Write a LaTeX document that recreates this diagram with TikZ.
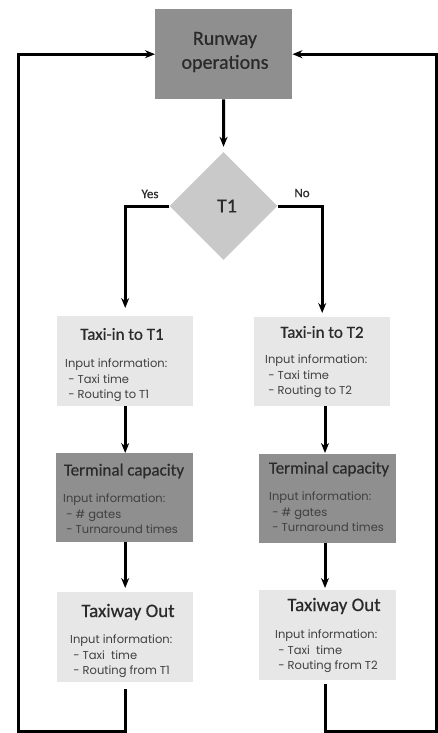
\documentclass[tikz,border=0pt]{standalone}
\usepackage{fontspec}
\setmainfont[FakeBold=0.5]{Carlito}
\newfontfamily\bodyfont{Poppins}
\usetikzlibrary{shapes.geometric,arrows.meta}
\definecolor{darkbox}{HTML}{8F8F8F}
\definecolor{lightbox}{HTML}{E7E7E7}
\definecolor{diabox}{HTML}{C9C9C9}
\definecolor{txt}{HTML}{2A2A2A}
\definecolor{bodytxt}{HTML}{404040}
\begin{document}
\begin{tikzpicture}[x=1pt,y=-1pt,
  box/.style={draw=none,inner sep=0pt,anchor=north west},
  title/.style={font=\fontsize{17}{19}\selectfont,text=txt,inner sep=0pt},
  bigtitle/.style={font=\fontsize{19}{21}\selectfont,text=txt,inner sep=0pt},
  body/.style={font=\bodyfont\fontsize{11.5}{15.5}\selectfont,text=bodytxt,align=left,inner sep=0pt,anchor=north west},
  conn/.style={line width=3pt,black},
  arr/.style={conn,-{Stealth[length=10pt,width=8pt]}},
  lbl/.style={font=\fontsize{13}{15}\selectfont,text=txt,inner sep=0pt}]
\useasboundingbox (0,0) rectangle (438,733);
% boxes
\node[box,fill=darkbox,minimum width=137pt,minimum height=90pt] (run) at (155,9) {};
\node[font=\fontsize{20}{24}\selectfont,text=txt,inner sep=0pt,align=center] (runt) at (225,52) {Runway\\operations};
\node[diamond,aspect=1,fill=diabox,minimum size=108pt,inner sep=0pt] (dia) at (223.5,206) {};
\node[font=\fontsize{20}{22}\selectfont,text=txt,inner sep=0pt] (diat) at (227,206) {T1};
\node[lbl] (yes) at (150,194) {Yes};
\node[lbl] (no) at (302,193) {No};

\node[box,fill=lightbox,minimum width=136pt,minimum height=90pt] (t1in) at (57,316) {};
\node[title] (t1int) at (122,334) {Taxi-in to T1};
\node[body] (t1inb) at (65,359) {Input information:\\\ - Taxi time\\\ - Routing to T1};

\node[box,fill=lightbox,minimum width=136pt,minimum height=89pt] (t2in) at (254,317) {};
\node[title] (t2int) at (322,332) {Taxi-in to T2};
\node[body] (t2inb) at (265,355) {Input information:\\\ - Taxi time\\\ - Routing to T2};

\node[box,fill=darkbox,minimum width=137pt,minimum height=89pt] (tc1) at (56,453) {};
\node[title] (tc1t) at (124,471) {Terminal capacity};
\node[body] (tc1b) at (63,494) {Input information:\\\ - \# gates\\\ - Turnaround times};

\node[box,fill=darkbox,minimum width=137pt,minimum height=89pt] (tc2) at (259,454) {};
\node[title] (tc2t) at (329,469) {Terminal capacity};
\node[body] (tc2b) at (269,492) {Input information:\\\ - \# gates\\\ - Turnaround times};

\node[box,fill=lightbox,minimum width=136pt,minimum height=90pt] (to1) at (57,592) {};
\node[bigtitle] (to1t) at (128,612) {Taxiway Out};
\node[body] (to1b) at (70,635) {Input information:\\\ - Taxi\ \ time\\\ - Routing from T1};

\node[box,fill=lightbox,minimum width=137pt,minimum height=90pt] (to2) at (259,590) {};
\node[bigtitle] (to2t) at (334,606) {Taxiway Out};
\node[body] (to2b) at (275,630) {Input information:\\\ - Taxi\ \ time\\\ - Routing from T2};

% connectors
\draw[arr,shorten >=5pt] (run.south) -- (dia.north);
\draw[arr,shorten >=8pt] (dia.west) -| (t1in.north);
\draw[arr,shorten >=4pt] (dia.east) -| (t2in.north);
\draw[arr] (t1in.south) -- (tc1.north -| t1in.south);
\draw[arr] (t2in.south -| 325,0) -- (325,453);
\draw[arr,shorten >=4pt] (tc1.south -| t1in.south) -- (to1.north -| t1in.south);
\draw[arr,shorten >=2pt] (325,543) -- (to2.north -| 325,0);
\coordinate (bl) at (18,731);
\coordinate (br) at (436,731);
\coordinate (to2out) at (325,684);
\draw[arr,shorten <=7pt] (to1.south) |- (bl) |- (run.west);
\draw[arr] (to2out) |- (br) |- (run.east);
\end{tikzpicture}
\end{document}
